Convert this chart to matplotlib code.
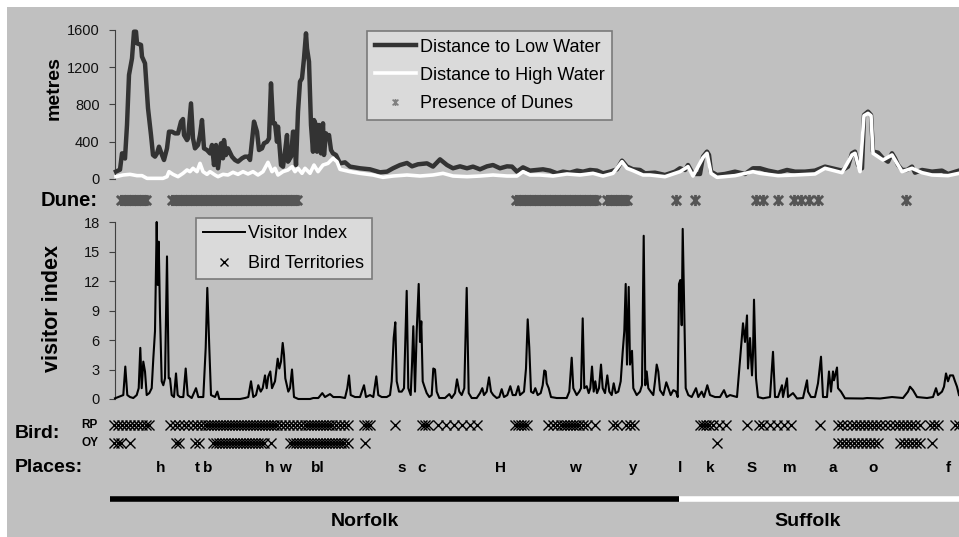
import numpy as np
import matplotlib
matplotlib.use('Agg')
import matplotlib.pyplot as plt
from matplotlib.lines import Line2D
from matplotlib.patches import Rectangle
from matplotlib.path import Path

plt.rcParams['font.family'] = ['Liberation Sans', 'DejaVu Sans']

# ---------------- DATA (x = coastal section index) ----------------
low_x = [1, 5, 7, 8, 10, 12, 14, 17, 19, 21, 22, 26, 27, 30, 33, 36, 38, 40, 42, 44, 47, 49, 52, 54, 57,
         60, 63, 66, 68, 69, 72, 73, 76, 78, 80, 83, 85, 87, 89, 92, 95, 97, 99, 101, 103, 106, 108, 109,
         111, 113, 117, 120, 123, 127, 130, 133, 135, 138, 139, 142, 144, 147, 149, 152, 154, 156, 158,
         160, 162, 163, 166, 168, 170, 172, 173, 176, 178, 179, 181, 183, 185, 187, 189, 191, 192, 194,
         196, 198, 199, 201, 202, 204, 206, 208, 209, 211, 213, 214, 216, 218, 221,
         225, 230, 235, 245, 255, 265, 272, 278, 285, 292, 297, 303, 312, 318, 325, 332, 338, 345, 352,
         358, 365, 372, 378, 385, 392, 397, 402, 408, 415, 422, 428, 435, 442, 448, 455, 462, 468, 475,
         482, 488, 495, 502, 507, 512, 518, 525, 530, 540, 550, 560, 565, 570, 573, 578, 585, 588, 592,
         594, 596, 602, 610, 620, 630, 638, 645, 653, 663, 672, 680, 690, 700, 710, 717, 727, 733, 737,
         740, 743, 747, 749, 753, 756, 758, 763, 768, 773, 777, 780, 783, 787, 792, 797, 800, 807, 817,
         827, 833, 844]
low_y = [80, 100, 275, 275, 220, 580, 1117, 1295, 1582, 1582, 1457, 1440, 1314, 1242, 760, 472, 258, 240,
         275, 347, 258, 204, 329, 508, 508, 490, 490, 616, 644, 472, 418, 436, 812, 436, 329, 365, 472,
         633, 329, 311, 275, 365, 150, 365, 115, 383, 222, 418, 258, 329, 240, 204, 186, 222, 240, 240,
         204, 508, 616, 508, 311, 329, 383, 400, 436, 1027, 598, 598, 400, 562, 150, 132, 293, 472, 186,
         240, 508, 508, 150, 723, 1045, 1081, 1295, 1564, 1403, 1260, 580, 293, 633, 580, 293, 580, 275,
         598, 258, 490, 436, 472, 311, 275, 258,
         168, 179, 133, 115, 104, 72, 79, 115, 150, 172, 136, 158, 168, 133, 211, 150, 115, 136, 115,
         133, 104, 136, 150, 115, 136, 133, 79, 125, 90, 97, 104, 90, 61, 79, 68, 90, 79, 97,
         90, 61, 79, 104, 197, 133, 104, 97, 61, 68, 43, 79, 115, 97, 150, 54, 54, 240, 294,
         258, 79, 43, 54, 79, 54, 115, 115, 90, 68, 97, 79, 79, 90, 133, 115, 90, 133, 276,
         294, 150, 115, 687, 723, 687, 294, 283, 222, 186, 276, 222, 150, 97, 97, 133, 68, 97, 79,
         90, 54, 90]

high_x = [1, 8, 15, 22, 27, 32, 42, 48, 52, 54, 58, 63, 68, 72, 75, 78, 82, 85, 88, 92, 95, 100, 103,
          108, 113, 118, 123, 128, 133, 138, 143, 148, 153, 157, 160, 163, 168, 173, 177, 180, 183, 187,
          190, 195, 199, 203, 208, 213, 218, 222,
          225, 235, 245, 258, 268, 278, 292, 305, 318, 328, 338, 352, 365, 378, 392, 402, 408, 415, 425,
          438, 452, 465, 478, 488, 498, 507, 512, 518, 528, 535, 550, 565, 573, 578, 588, 592, 596, 602,
          620, 638, 645, 663, 680, 700, 710, 727, 737, 740, 745, 749, 753, 756, 758, 768, 777, 787, 797,
          807, 817, 833, 844]
high_y = [25, 43, 50, 36, 36, 7, 7, 7, 25, 79, 50, 25, 61, 97, 79, 115, 79, 168, 79, 50, 79, 43, 25,
          50, 43, 72, 50, 79, 54, 79, 43, 79, 179, 79, 115, 43, 79, 97, 132, 79, 115, 61,
          115, 61, 150, 79, 150, 168, 222, 186,
          104, 79, 61, 43, 18, 32, 43, 32, 43, 61, 32, 25, 32, 43, 32, 32, 79, 43, 43,
          32, 54, 43, 61, 32, 61, 186, 115, 90, 43, 43, 25, 79, 133, 32, 230, 276, 61, 18,
          36, 79, 61, 36, 43, 54, 115, 68, 258, 276, 79, 680, 705, 680, 276, 204, 258, 79, 115,
          68, 43, 36, 61]

visitor_x = [0, 3.3, 8.3, 10.3, 12.3, 15, 18.3, 21.7, 23.7, 25.3, 26.7, 28.3, 30, 31.7, 34.3, 36.7, 38.3,
             40, 41.7, 42.7, 43.7, 45, 46.7, 48.3, 50, 52, 53.7, 55, 56.7, 59, 61, 62.7, 65, 68.3, 70.7,
             72.7, 76.7, 81, 83.3, 88.3, 90.7, 92.3, 94.3, 96, 100, 102.3, 104.3, 125, 130, 133.3, 136,
             138.3, 141, 143.3, 145.7, 147.7, 150, 151.7, 153.3, 155.3, 157, 160, 162.7, 164.3, 166,
             167.7, 169, 170.3, 173.3, 175, 177, 179, 183.3, 195, 198.3, 203.3, 207.3, 210, 215, 218.3,
             225, 230, 232.3, 234, 235.7, 240, 245, 249, 251, 255, 258.3, 261.3, 263.3, 266.7, 271.7,
             275, 276.7, 278.7, 280.3, 281.7, 284, 286.7, 289, 291.7, 293.3,
             295.7, 297, 298.3, 300, 301.7, 303.7, 305, 306.3, 307.7, 309.3, 311.7, 314.3, 316.7, 318.3,
             320, 321.7, 324.3, 330, 334.3, 336.7, 340, 342, 344.3, 346.7, 349.3, 351.7, 353.7, 356.7,
             361.7, 365, 367.3, 369, 371.7, 374, 376, 378.3, 381.7, 384.3, 386.7, 389, 392.3, 395.3,
             397.7, 400.7, 403.3, 405, 409, 411, 412.7, 414.3, 416, 418.3, 420.3, 422.7, 425.7, 427.7,
             429.3, 430.7, 431.7, 433.7, 436, 441.7, 451.7, 454.3, 456.7, 458.3, 461.7, 464.3, 466,
             467.7, 469.3, 471.7, 473.7, 475.3, 477, 478.7, 480.3, 482, 484, 486, 487.7, 490, 492.3,
             494.3, 496.7, 498.7, 500.7, 503.3, 505.7, 507.7, 509.3, 510.7, 512, 513.7, 515, 517,
             518.3, 521.7, 525, 527, 528.7, 530.3, 531.7, 533.3, 535.7, 538.3, 540, 541.7, 543.3, 545,
             548.3, 551.3, 553.3, 555.7, 558.3, 561, 562.7, 564, 565.3, 566.7, 567.7, 569, 570.7,
             573.3, 576.7, 581, 583.3, 586.7, 589, 592.3, 595, 600, 605, 609, 611.7, 615,
             622, 628, 630, 632, 633, 635, 637, 638, 639, 641, 643, 648, 655, 658, 660, 663, 667, 668,
             672, 673, 678, 682, 688, 692, 693, 696, 700, 703, 706, 708, 712, 714, 716, 718, 719, 722,
             723, 726, 730, 748, 752, 765, 777, 788, 793, 795, 798, 802, 812, 818, 821, 823, 827, 829,
             831, 833, 835, 838, 840, 842, 844]
visitor_y = [0.07, 0.2, 0.4, 3.3, 0.4, 0.2, 0.1, 0.4, 1.1, 5.2, 1.1, 3.8, 2.8, 0.4, 0.6, 1.1, 4.1,
             6.9, 18, 11.6, 16, 8.6, 1.8, 1.4, 2.1, 14.5, 2.1, 2.1, 0.4, 0.2, 2.6, 0.4, 0.2, 0.2, 3.1,
             0.4, 0.1, 1.1, 0.2, 0.2, 5.2, 11.3, 5.2, 0.4, 0.2, 0.75, 0, 0, 0.1, 0.2, 1.8,
             0.2, 0.4, 1.4, 0.75, 1.1, 2.4, 1.1, 2.3, 2.8, 1.1, 1.8, 4.1, 3.1, 3.8,
             5.7, 4.5, 2.1, 0.75, 1.1, 3.0, 0.2, 0, 0, 0.1, 0.1, 0.6, 0.2, 0.5, 0.2,
             0.2, 0.1, 1.1, 2.4, 0.4, 0.2, 0.2, 1.4, 0.2, 0.4, 0.2, 2.3, 0.4, 0.2, 0.2,
             0.4, 1.8, 6.2, 7.8, 1.8, 0.75, 0.75, 1.1, 11.0, 1.1,
             0.4, 3.5, 7.4, 0.75, 6.9, 11.7, 5.8, 7.9, 1.8, 1.3, 0.6, 0.2, 0.4, 3.1,
             3.0, 0.75, 0.1, 0.1, 0.5, 0.1, 0.6, 2.0, 0.75, 0.4, 1.1, 11.3, 0.6, 0.1,
             0.1, 0.6, 1.1, 0.4, 0.75, 2.2, 0.75, 0.4, 0.1, 0.2, 1.0, 0.2, 0.4, 1.3,
             0.4, 0.4, 1.3, 0.4, 0.75, 3.1, 8.1, 5.2, 0.75, 0.6, 1.1, 0.4, 0.6, 1.4,
             2.9, 2.8, 1.6, 1.1, 0.2, 0.1, 0.1, 0.75, 4.2, 1.1, 0.4, 0.75, 1.1,
             8.2, 1.1, 1.3, 0.6, 1.1, 3.3, 0.75, 1.8, 0.6, 1.1, 3.5, 1.1, 0.6, 2.4,
             0.75, 0.4, 1.6, 0.6, 0.75, 1.8, 4.8, 6.9, 11.7, 3.5, 11.4, 3.5, 4.9,
             1.1, 0.4, 0.75, 1.4, 16.6, 1.4, 2.8, 1.1, 0.75, 0.4, 1.8, 3.5, 2.8, 0.9,
             0.4, 1.7, 1.1, 0.4, 0.9, 0.75, 0.2, 11.7, 12.1, 7.5, 17.3, 10.3, 1.1,
             0.4, 0.2, 1.1, 0.2, 0.75, 0.2, 1.4, 0.4, 0.2, 0.2, 0.9, 0.2, 0.4,
             0.2, 7.7, 5.8, 8.5, 3.1, 6.2, 2.4, 4.6, 10.1, 2.1, 0.2, 0.07, 0.2, 4.8, 0.2, 0.2, 1.4, 0.2,
             2.1, 0.2, 0.6, 0.05, 0.1, 1.9, 0.75, 0.2, 0.2, 1.6, 4.3, 0.2, 0.2, 2.8, 0.75, 2.8, 1.9, 3.2,
             1.1, 0.75, 0.07, 0.05, 0.1, 0.05, 0.2, 0.1, 0.75, 1.25, 0.9, 0.2, 0.1, 0.2, 1.1, 0.4, 0.75, 1.25,
             2.6, 1.8, 2.4, 2.4, 1.8, 1.25, 0.4]

# dune presence: stretches of coast (first section, last section)
dune_start = [6, 57, 401, 492, 561, 580, 641, 648, 663, 679, 686, 694, 703, 791]
dune_end = [31, 183, 481, 514, 561, 580, 641, 648, 663, 679, 686, 694, 703, 791]

# bird territories (section of each territory)
rp_x = [-1, 3, 7, 11, 15, 19, 23, 27, 31, 34,
        55, 60, 64, 69, 73, 78, 82, 86, 90, 93, 96, 99, 102, 105, 108, 111, 114, 117, 120, 123, 126,
        129, 132, 135, 138, 141, 144, 147, 150, 153, 156, 159, 162, 166, 170, 174, 178, 182, 186,
        190, 193, 196, 199, 202, 205, 208, 211, 214, 217, 221, 225, 229, 233,
        249, 252, 255, 280, 307, 310, 313, 323, 331, 339, 347, 355, 362,
        400, 403, 406, 409, 412, 433, 438, 442, 446, 449, 452, 455, 458, 461, 464, 468, 472, 480,
        498, 502, 511, 515, 519, 585, 588, 591, 594, 598, 604, 611, 632,
        644, 648, 655, 662, 669, 676, 705,
        723, 727, 732, 737, 741, 745, 749, 753, 757, 761, 765, 770, 775, 780, 784, 788, 792, 796,
        800, 805, 815, 819, 823, 840, 844]
oy_x = [-1, 3, 6, 15, 61, 64, 80, 84,
        98, 101, 104, 107, 110, 113, 116, 119, 122, 125, 128, 131, 134, 137, 140, 143, 146, 149, 156,
        175, 178, 181, 184, 187, 190, 193, 196, 199, 202, 205, 208, 211, 214, 217, 220, 223, 226,
        229, 233, 250,
        602, 723, 727, 731, 735, 739, 743, 747, 751, 755, 759, 763,
        785, 789, 793, 797, 801, 805, 817]

place_labels = ['h', 't', 'b', 'h', 'w', 'bl', 's', 'c', 'H', 'w', 'y', 'l', 'k', 'S', 'm', 'a', 'o', 'f']
place_x = [46, 82, 93, 155, 170, 203, 287, 307, 385, 460, 518, 565, 595, 637, 675, 718, 758, 833]

counties = ['Norfolk', 'Suffolk']
county_start = [-5, 564]
county_end = [564, 850]
county_label_x = [250, 693]
county_colors = ['black', 'white']

top_ticks = [0, 400, 800, 1200, 1600]
vis_ticks = [0, 3, 6, 9, 12, 15, 18]

# ---------------- FIGURE ----------------
W, H = 959, 537
fig = plt.figure(figsize=(W / 100, H / 100), dpi=100, facecolor='white')
BG = '#c0c0c0'
fig.patches.append(Rectangle((7 / W, 0), 1 - 7 / W, 1 - 7 / H, transform=fig.transFigure,
                             facecolor=BG, edgecolor='none', zorder=-10))


def rect(l, t, r, b):
    return [l / W, 1 - b / H, (r - l) / W, (b - t) / H]


def ftext(x, y, s, **kw):
    fig.text(x / W, 1 - y / H, s, **kw)


# asterisk marker: x plus a vertical bar
AST = Path([(-1, -1), (1, 1), (-1, 1), (1, -1), (0, -1.2), (0, 1.2)],
           [Path.MOVETO, Path.LINETO, Path.MOVETO, Path.LINETO, Path.MOVETO, Path.LINETO])

XL = (0, 844)
AXC = '#404040'

# top panel
ax1 = fig.add_axes(rect(115, 30, 959, 179))
ax1.set_facecolor('none')
ax1.plot(low_x, low_y, color='#333333', lw=3.2, solid_joinstyle='round', clip_on=False, zorder=3)
ax1.plot(high_x, high_y, color='white', lw=2.6, solid_joinstyle='round', clip_on=False, zorder=4)
ax1.set_xlim(*XL)
ax1.set_ylim(0, 1600)
ax1.set_yticks(top_ticks)
ax1.set_xticks([])

# visitor panel
ax2 = fig.add_axes(rect(115, 222, 959, 399))
ax2.set_facecolor('none')
ax2.plot(visitor_x, visitor_y, color='black', lw=1.5, clip_on=False, zorder=3)
ax2.set_xlim(*XL)
ax2.set_ylim(0, 18)
ax2.set_yticks(vis_ticks)
ax2.set_xticks([])

for ax in (ax1, ax2):
    for sp in ('top', 'right', 'bottom'):
        ax.spines[sp].set_visible(False)
    ax.spines['left'].set_color(AXC)
    ax.spines['left'].set_linewidth(0.8)
    ax.tick_params(axis='y', direction='out', length=4, width=0.8, color=AXC,
                   labelsize=10.5, pad=7, labelcolor='#111111')

# overlay rows (pixel-row layout)
ov = fig.add_axes(rect(115, 0, 959, 537))
ov.set_facecolor('none')
ov.set_xlim(*XL)
ov.set_ylim(537, 0)
ov.axis('off')

dune_x = np.concatenate([np.arange(a, b + 0.1, 2.5) for a, b in zip(dune_start, dune_end)])
ov.plot(dune_x, np.full(len(dune_x), 200), ls='none', marker=AST, ms=8, mew=2.0,
        color='#555555', clip_on=False)
ov.plot(rp_x, np.full(len(rp_x), 425), ls='none', marker='x', ms=6.5, mew=1.0, color='black', clip_on=False)
ov.plot(oy_x, np.full(len(oy_x), 443), ls='none', marker='x', ms=6.5, mew=1.0, color='black', clip_on=False)

for lab, x in zip(place_labels, place_x):
    ov.text(x, 468, lab, ha='center', va='center', fontsize=11, fontweight='bold')

for name, a, b, c, lx in zip(counties, county_start, county_end, county_colors, county_label_x):
    ov.plot([a, b], [499, 499], color=c, lw=4, solid_capstyle='butt', clip_on=False)
    ov.text(lx, 522, name, ha='center', va='center', fontsize=14, fontweight='bold')

# row / axis labels
ftext(54, 88, 'metres', rotation=90, ha='center', va='center', fontsize=14, fontweight='bold')
ftext(53, 309, 'visitor index', rotation=90, ha='center', va='center', fontsize=15.5, fontweight='bold')
ftext(98, 200, 'Dune:', ha='right', va='center', fontsize=14.5, fontweight='bold')
ftext(15, 433, 'Bird:', ha='left', va='center', fontsize=14, fontweight='bold')
ftext(98, 425, 'RP', ha='right', va='center', fontsize=8.5, fontweight='bold')
ftext(98, 443, 'OY', ha='right', va='center', fontsize=8.5, fontweight='bold')
ftext(15, 468, 'Places:', ha='left', va='center', fontsize=14, fontweight='bold')

# legends
h1 = [Line2D([], [], color='#333333', lw=3.2),
      Line2D([], [], color='white', lw=2.6),
      Line2D([], [], ls='none', marker=AST, ms=5, mew=1.2, color='#808080')]
l1 = ['Distance to Low Water', 'Distance to High Water', 'Presence of Dunes']
leg1 = fig.legend(h1, l1, loc='upper left', bbox_to_anchor=(367 / W, 1 - 31 / H),
                  bbox_transform=fig.transFigure, frameon=True, fancybox=False, framealpha=1,
                  facecolor='#dadada', edgecolor='#7a7a7a', fontsize=13, handlelength=2.3,
                  handletextpad=0.2, labelspacing=0.62, borderpad=0.42, borderaxespad=0)
leg1.get_frame().set_linewidth(1.2)

h2 = [Line2D([], [], color='black', lw=1.4),
      Line2D([], [], ls='none', marker='x', ms=6, mew=1.0, color='black')]
l2 = ['Visitor Index', 'Bird Territories']
leg2 = fig.legend(h2, l2, loc='upper left', bbox_to_anchor=(196 / W, 1 - 218 / H),
                  bbox_transform=fig.transFigure, frameon=True, fancybox=False, framealpha=1,
                  facecolor='#dadada', edgecolor='#7a7a7a', fontsize=13, handlelength=2.3,
                  handletextpad=0.2, labelspacing=0.72, borderpad=0.4, borderaxespad=0)
leg2.get_frame().set_linewidth(1.2)

fig.savefig('out.png', dpi=100, facecolor='white')
